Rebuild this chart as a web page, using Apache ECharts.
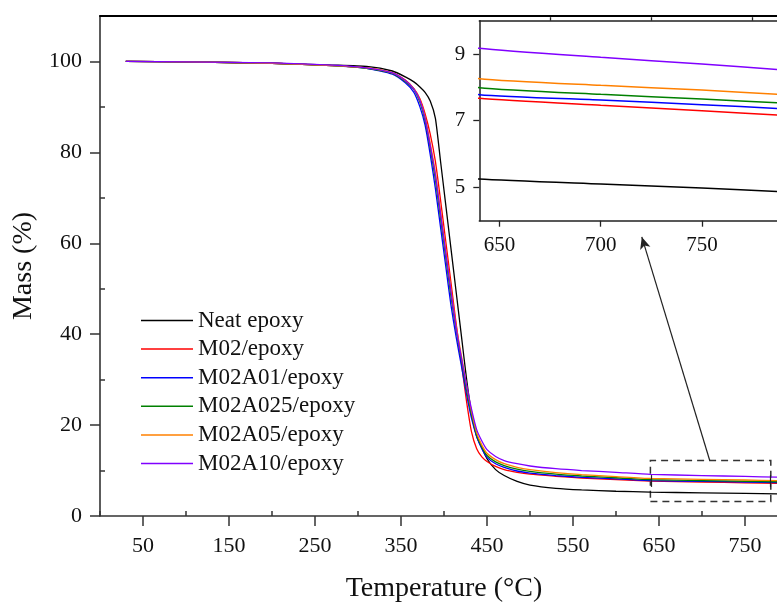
<!DOCTYPE html>
<html>
<head>
<meta charset="utf-8">
<script src="https://cdn.jsdelivr.net/npm/echarts@6/dist/echarts.min.js"></script>
<style>
  html, body { margin: 0; padding: 0; background: #fff; }
  #chart { width: 777px; height: 606px; }
</style>
</head>
<body>
<div id="chart"></div>
<script>
// temperature grid (°C) shared by all curves
const temps = [30, 100, 200, 270, 310, 340, 355, 365, 372, 378, 384, 390, 396, 402, 408, 414, 420, 426, 432, 438, 444, 450, 460, 470, 485, 500, 530, 560, 600, 640, 700, 750, 790]

// mass (%)
const neat    = [100, 99.9, 99.6, 99.2, 98.9, 97.9, 96.6, 95.5, 94.4, 93.2, 91.3, 87.5, 78.0, 68.5, 59.0, 49.5, 40.0, 30.5, 22.5, 17.5, 15.0, 12.6, 10.2, 8.9, 7.6, 6.8, 6.1, 5.75, 5.45, 5.25, 5.10, 4.98, 4.87]
const m02     = [100, 99.9, 99.6, 99.1, 98.6, 97.5, 95.9, 94.0, 91.8, 88.5, 84.0, 78.0, 69.5, 60.5, 51.5, 42.5, 34.0, 25.5, 18.5, 14.8, 13.0, 12.0, 10.9, 10.2, 9.6, 9.2, 8.75, 8.35, 8.0, 7.67, 7.46, 7.30, 7.16]
const m02a01  = [100, 99.9, 99.6, 99.1, 98.5, 97.2, 95.3, 93.2, 90.0, 86.0, 79.5, 72.0, 63.5, 55.0, 46.5, 39.5, 33.3, 27.0, 21.5, 17.5, 14.8, 12.9, 11.5, 10.7, 9.9, 9.45, 8.9, 8.5, 8.15, 7.78, 7.62, 7.48, 7.36]
const m02a025 = [100, 99.9, 99.6, 99.1, 98.5, 97.4, 95.6, 93.8, 91.0, 87.0, 81.0, 74.0, 65.5, 57.0, 48.5, 41.0, 34.5, 28.0, 22.3, 17.8, 15.2, 13.3, 11.9, 11.1, 10.3, 9.8, 9.2, 8.8, 8.42, 7.99, 7.79, 7.65, 7.53]
const m02a05  = [100, 99.9, 99.6, 99.1, 98.6, 97.5, 95.8, 94.0, 91.5, 87.8, 82.0, 75.5, 67.0, 58.5, 50.0, 42.0, 35.5, 29.0, 23.0, 18.3, 15.6, 13.8, 12.4, 11.5, 10.7, 10.2, 9.55, 9.1, 8.68, 8.26, 8.06, 7.92, 7.78]
const m02a10  = [100, 99.9, 99.7, 99.2, 98.6, 97.5, 95.8, 93.9, 91.4, 87.5, 81.5, 75.0, 66.5, 58.0, 49.5, 41.5, 35.0, 29.0, 23.5, 19.0, 16.5, 14.6, 13.1, 12.2, 11.5, 11.0, 10.4, 10.0, 9.6, 9.17, 8.9, 8.7, 8.52]

const seriesNames = ['Neat epoxy', 'M02/epoxy', 'M02A01/epoxy', 'M02A025/epoxy', 'M02A05/epoxy', 'M02A10/epoxy']
const seriesData = [neat, m02, m02a01, m02a025, m02a05, m02a10]
const COLORS = ['#000000', '#ff0000', '#0000ff', '#008000', '#ff8000', '#8000ff']

// tick labels
const xLabels = [50, 150, 250, 350, 450, 550, 650, 750]
const xMinor = [0, 100, 200, 300, 400, 500, 600, 700, 800]
const yLabels = [0, 20, 40, 60, 80, 100]
const yMinor = [10, 30, 50, 70, 90]
const insetXLabels = [650, 700, 750]
const insetXMinor = [675, 725, 775]
const insetYLabels = [5, 7, 9]
const insetYMinor = [6, 8]

// zoom box and arrow (data coords of main plot)
const zoomBox = [[640, 3.2], [780, 12.2]]
const zoomArrow = [[709, 12.2], [630, 61.4]]
const boxMarks = [[[640.5, 6.4], [640.5, 9.0]], [[779.5, 6.4], [779.5, 9.0]]]

const FONT = 'Liberation Serif'
const AXIS_COLOR = '#333'

function pairs(ys) {
  return temps.map((t, i) => [t, ys[i]])
}

function tickAxis(base, extra) {
  return Object.assign({
    type: 'value',
    axisLine: { show: false },
    axisLabel: { show: false },
    splitLine: { show: false },
    axisTick: { show: false }
  }, base, extra)
}

const chart = echarts.init(document.getElementById('chart'), null, { renderer: 'canvas' })

const mainSeries = seriesData.map((ys, i) => ({
  name: seriesNames[i],
  type: 'line',
  xAxisIndex: 0,
  yAxisIndex: 0,
  data: pairs(ys),
  smooth: 0.2,
  showSymbol: false,
  symbol: 'none',
  lineStyle: { width: 1.3, color: COLORS[i] },
  itemStyle: { color: COLORS[i] },
  z: 3 + (i === 0 ? 0 : 1),
  animation: false
}))

const insetSeries = seriesData.map((ys, i) => ({
  name: seriesNames[i],
  type: 'line',
  xAxisIndex: 3,
  yAxisIndex: 2,
  data: pairs(ys),
  smooth: 0.2,
  showSymbol: false,
  symbol: 'none',
  clip: true,
  lineStyle: { width: 1.5, color: COLORS[i] },
  itemStyle: { color: COLORS[i] },
  animation: false
}))

// annotations: dashed box, cursor marks and arrow
mainSeries[0].markArea = {
  silent: true,
  itemStyle: { color: 'rgba(0,0,0,0)', borderColor: '#333', borderWidth: 1.5, borderType: [7, 5] },
  data: [[{ coord: zoomBox[0] }, { coord: zoomBox[1] }]]
}
mainSeries[0].markLine = {
  silent: true,
  animation: false,
  label: { show: false },
  data: [
    [{ coord: zoomArrow[0], symbol: 'none' }, { coord: zoomArrow[1], symbol: 'arrow', symbolSize: [8, 12] }],
    [{ coord: boxMarks[0][0], symbol: 'none' }, { coord: boxMarks[0][1], symbol: 'none' }],
    [{ coord: boxMarks[1][0], symbol: 'none' }, { coord: boxMarks[1][1], symbol: 'none' }]
  ],
  lineStyle: { color: '#222', width: 1.2, type: 'solid' }
}

const option = {
  backgroundColor: '#fff',
  animation: false,
  textStyle: { fontFamily: FONT },
  legend: {
    data: seriesNames,
    orient: 'vertical',
    left: 141,
    top: 309,
    padding: 0,
    itemWidth: 52,
    itemHeight: 1.5,
    itemGap: 5.6,
    icon: 'rect',
    textStyle: { fontFamily: FONT, fontSize: 23, color: '#111', lineHeight: 21 },
    selectedMode: false
  },
  grid: [
    { left: 100, top: 16, width: 688, height: 500, outerBoundsMode: 'none', containLabel: false },
    { left: 479.3, top: 20.7, width: 323.8, height: 200, outerBoundsMode: 'none', containLabel: false }
  ],
  xAxis: [
    {
      type: 'value', gridIndex: 0, min: 0, max: 800,
      name: 'Temperature (°C)', nameLocation: 'middle', nameGap: 59,
      nameTextStyle: { fontFamily: FONT, fontSize: 28, color: '#111' },
      axisLine: { show: true, onZero: false, lineStyle: { color: AXIS_COLOR, width: 1.6 } },
      axisTick: { show: true, length: 10, customValues: xLabels, lineStyle: { color: AXIS_COLOR, width: 1.5 } },
      axisLabel: { show: true, customValues: xLabels, margin: 19, fontFamily: FONT, fontSize: 22, color: '#111' },
      splitLine: { show: false }
    },
    tickAxis({ gridIndex: 0, min: 0, max: 800 }, {
      axisTick: { show: true, length: 5, customValues: xMinor, lineStyle: { color: AXIS_COLOR, width: 1.5 } }
    }),
    tickAxis({ gridIndex: 0, min: 0, max: 800, position: 'top' }, {
      axisLine: { show: true, onZero: false, lineStyle: { color: '#000', width: 2 } }
    }),
    {
      type: 'value', gridIndex: 1, min: 640, max: 800,
      axisLine: { show: true, onZero: false, lineStyle: { color: '#222', width: 1.5 } },
      axisTick: { show: true, length: 6, customValues: insetXLabels.concat([800]), lineStyle: { color: '#222', width: 1.3 } },
      axisLabel: { show: true, customValues: insetXLabels, margin: 14, fontFamily: FONT, fontSize: 21, color: '#111' },
      splitLine: { show: false }
    },
    tickAxis({ gridIndex: 1, min: 640, max: 800 }, {
      axisTick: { show: true, length: 3.5, customValues: insetXMinor, lineStyle: { color: '#222', width: 1.3 } }
    }),
    tickAxis({ gridIndex: 1, min: 640, max: 800, position: 'top' }, {
      axisLine: { show: true, onZero: false, lineStyle: { color: '#222', width: 1.5 } }
    })
  ],
  yAxis: [
    {
      type: 'value', gridIndex: 0, min: 0, max: 110,
      name: 'Mass (%)', nameLocation: 'middle', nameGap: 52, nameRotate: 90,
      nameTextStyle: { fontFamily: FONT, fontSize: 28, color: '#111' },
      axisLine: { show: true, onZero: false, lineStyle: { color: AXIS_COLOR, width: 1.6 } },
      axisTick: { show: true, length: 10, customValues: yLabels, lineStyle: { color: AXIS_COLOR, width: 1.5 } },
      axisLabel: { show: true, customValues: yLabels, margin: 18, fontFamily: FONT, fontSize: 22, color: '#111' },
      splitLine: { show: false }
    },
    tickAxis({ gridIndex: 0, min: 0, max: 110 }, {
      axisTick: { show: true, length: 5, customValues: yMinor, lineStyle: { color: AXIS_COLOR, width: 1.5 } }
    }),
    {
      type: 'value', gridIndex: 1, min: 4, max: 10,
      axisLine: { show: true, onZero: false, lineStyle: { color: '#222', width: 1.5 } },
      axisTick: { show: true, length: 6, customValues: insetYLabels, lineStyle: { color: '#222', width: 1.3 } },
      axisLabel: { show: true, customValues: insetYLabels, margin: 14, fontFamily: FONT, fontSize: 21, color: '#111' },
      splitLine: { show: false }
    },
    tickAxis({ gridIndex: 1, min: 4, max: 10 }, {
      axisTick: { show: true, length: 3.5, customValues: insetYMinor, lineStyle: { color: '#222', width: 1.3 } }
    })
  ],
  series: [...mainSeries, ...insetSeries]
}

chart.setOption(option)
</script>
</body>
</html>
